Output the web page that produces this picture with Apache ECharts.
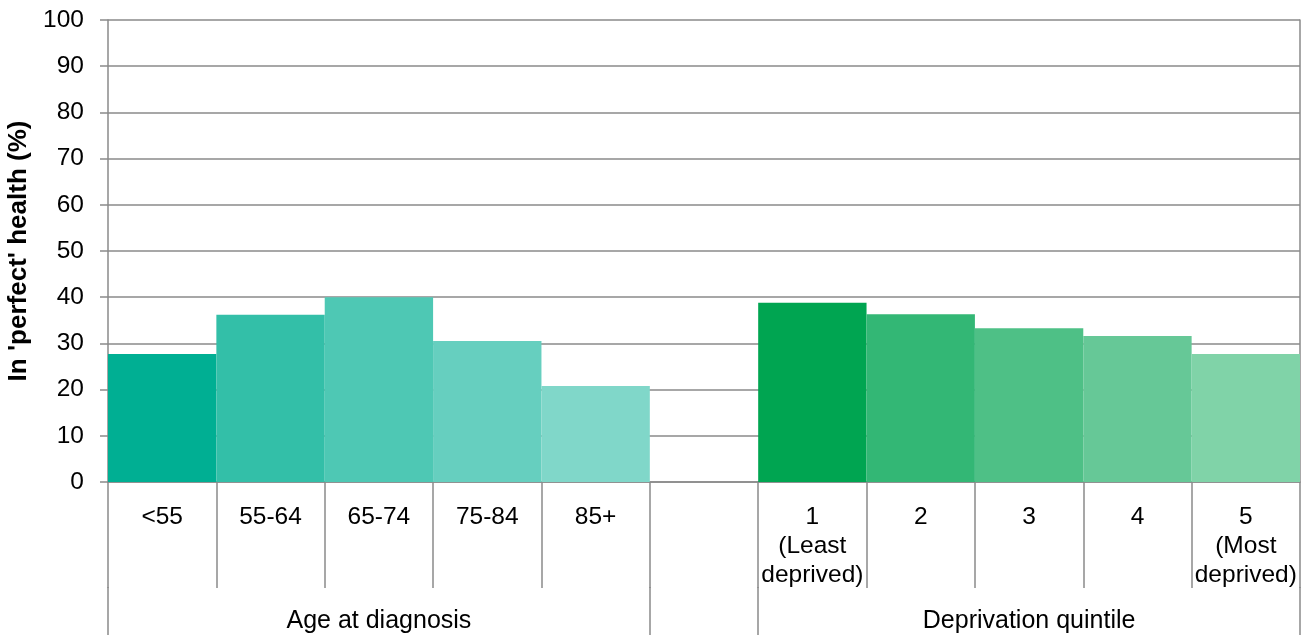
<!DOCTYPE html>
<html>
<head>
<meta charset="utf-8">
<script src="https://cdn.jsdelivr.net/npm/echarts@6/dist/echarts.min.js"></script>
<style>
  html, body { margin: 0; padding: 0; background: #fff; }
  #chart { width: 1311px; height: 635px; }
</style>
</head>
<body>
<div id="chart"></div>
<script>
// Share of patients reporting 'perfect' health, by age group and deprivation quintile
const categories = ['<55', '55-64', '65-74', '75-84', '85+', '',
  '1\n(Least\ndeprived)', '2', '3', '4', '5\n(Most\ndeprived)'];
const ageValues = [27.7, 36.2, 40.0, 30.5, 20.8];
const deprivationValues = [38.8, 36.3, 33.3, 31.6, 27.7];
const groupNames = ['Age at diagnosis', 'Deprivation quintile'];
const yTicks = [0, 10, 20, 30, 40, 50, 60, 70, 80, 90, 100];

const ageColors = ['#00AF93', '#33BFA8', '#4EC8B4', '#66CFBF', '#80D7C9'];
const depColors = ['#00A551', '#33B775', '#4EC086', '#66C897', '#80D3A8'];

const values = [...ageValues, null, ...deprivationValues];
const colors = [...ageColors, 'transparent', ...depColors];

// Group band: each name sits on the middle category of its block,
// separators at the block edges (either side of the empty gap slot).
const ageCount = ageValues.length;
const groupLabels = categories.map(() => '');
groupLabels[Math.floor(ageCount / 2)] = groupNames[0];
groupLabels[ageCount + 1 + Math.floor(deprivationValues.length / 2)] = groupNames[1];
const groupEdges = [0, ageCount, ageCount + 1, categories.length];

const FONT = "'Liberation Sans', Arial, sans-serif";
const GRID_COLOR = '#8a8a8a';
const CAT_TICK_LEN = 106;
const chart = echarts.init(document.getElementById('chart'), null, { renderer: 'canvas' });

chart.setOption({
  animation: false,
  textStyle: { fontFamily: FONT },
  grid: { left: 108, right: 11, top: 20, bottom: 153, containLabel: false, outerBoundsMode: 'none' },
  xAxis: [
    {
      type: 'category',
      data: categories,
      boundaryGap: true,
      axisLine: { show: true, lineStyle: { color: GRID_COLOR, width: 1.5 } },
      axisTick: { show: true, interval: 0, length: CAT_TICK_LEN, lineStyle: { color: GRID_COLOR, width: 1.5 } },
      axisLabel: {
        interval: 0, margin: 21, color: '#000', fontSize: 24.5,
        fontFamily: FONT, lineHeight: 29, align: 'center'
      }
    },
    {
      type: 'category',
      data: groupLabels,
      boundaryGap: true,
      position: 'bottom',
      offset: CAT_TICK_LEN,
      axisLine: { show: false },
      splitLine: { show: false },
      axisTick: { show: false },
      axisLabel: {
        show: true, interval: 0, margin: 21, color: '#000',
        fontSize: 25, fontFamily: FONT
      }
    }
  ],
  yAxis: [
    {
      type: 'value',
      min: yTicks[0], max: yTicks[yTicks.length - 1], interval: 10,
      name: "In 'perfect' health (%)",
      nameLocation: 'middle',
      nameGap: 74,
      nameTextStyle: { fontSize: 26, fontWeight: 'bold', color: '#000', fontFamily: FONT },
      axisLine: { show: true, lineStyle: { color: GRID_COLOR, width: 1.5 } },
      axisTick: { show: true, length: 8, lineStyle: { color: GRID_COLOR, width: 1.5 } },
      axisLabel: { margin: 24, color: '#000', fontSize: 24.5, fontFamily: FONT },
      splitLine: { show: true, lineStyle: { color: GRID_COLOR, width: 1.5 } }
    },
    {
      type: 'value',
      position: 'right',
      min: 0, max: 100,
      axisLine: { show: true, lineStyle: { color: GRID_COLOR, width: 1.5 } },
      axisTick: { show: false },
      axisLabel: { show: false },
      splitLine: { show: false }
    }
  ],
  series: [
    {
      type: 'bar',
      xAxisIndex: 0,
      yAxisIndex: 0,
      barCategoryGap: '0%',
      barGap: '0%',
      data: values.map((v, i) => ({ value: v === null ? '-' : v, itemStyle: { color: colors[i] } })),
      emphasis: { disabled: true }
    }
  ]
});

// Extend the block-edge ticks through the group-name band, positioned from the category axis.
function drawGroupSeparators() {
  const c0 = chart.convertToPixel({ xAxisIndex: 0 }, 0);
  const c1 = chart.convertToPixel({ xAxisIndex: 0 }, 1);
  const band = c1 - c0;
  const baseY = chart.convertToPixel({ yAxisIndex: 0 }, 0) + CAT_TICK_LEN;
  const bottomY = chart.getHeight();
  const lines = groupEdges.map((edge, i) => {
    const x = Math.round(c0 - band / 2 + edge * band);
    return {
      type: 'line',
      id: 'sep' + i,
      silent: true,
      shape: { x1: x, y1: baseY - 1, x2: x, y2: bottomY },
      style: { stroke: GRID_COLOR, lineWidth: 1.5 }
    };
  });
  chart.setOption({ graphic: lines });
}
drawGroupSeparators();
</script>
</body>
</html>
